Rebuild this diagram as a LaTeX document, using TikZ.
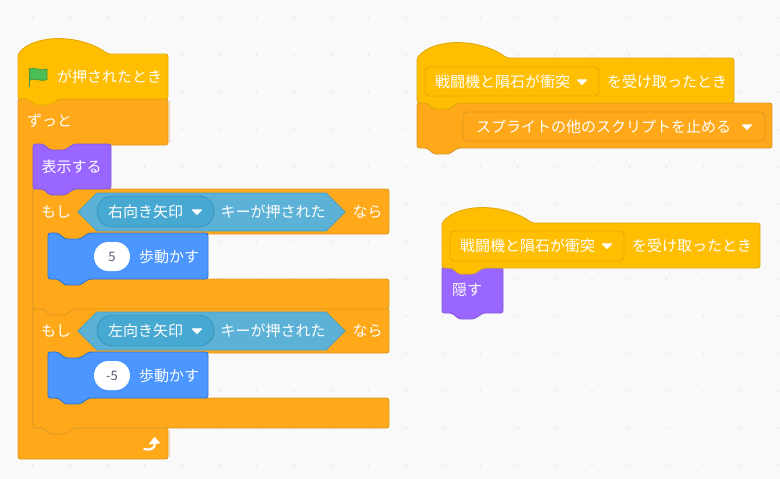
\documentclass[tikz,border=0pt]{standalone}
\usepackage{fontspec}
\setmainfont{Noto Sans CJK JP}
\definecolor{bgc}{HTML}{F9F9F9}
\definecolor{dotc}{HTML}{E6E6E8}
\definecolor{ctls}{HTML}{DB9A25}
\definecolor{ctlf}{HTML}{FFA91A}
\definecolor{evt}{HTML}{FFBF00}
\definecolor{evts}{HTML}{E2AA0A}
\definecolor{lok}{HTML}{9966FF}
\definecolor{loks}{HTML}{855CD6}
\definecolor{mot}{HTML}{4C97FF}
\definecolor{mots}{HTML}{3373CC}
\definecolor{sen}{HTML}{5CB1D6}
\definecolor{sens}{HTML}{47A0C8}
\definecolor{send}{HTML}{47A8D1}
\definecolor{sends}{HTML}{3A96BE}
\definecolor{glowc}{HTML}{EBD7B5}
\definecolor{txtg}{HTML}{575E75}
\definecolor{flagf}{HTML}{4CBF56}
\definecolor{flags}{HTML}{45993D}
% stack block path: x y w h
\newcommand\stackpath[4]{(#1,#2) -- ++(10,0) -- ++(7,6) -- ++(15,0) -- ++(9,-6) -- (#1+#3,#2) -- (#1+#3,#2+#4) -- (#1+41,#2+#4) -- ++(-9,6) -- ++(-15,0) -- ++(-7,-6) -- (#1,#2+#4) -- cycle}
% hat path: x top-of-body w h curve-end
\newcommand\hatpath[5]{(#1,#2) .. controls (#1+17,#2-20) and (#1+#5-28,#2-20) .. (#1+#5,#2) -- (#1+#3,#2) -- (#1+#3,#2+#4) -- (#1+41,#2+#4) -- ++(-9,6) -- ++(-15,0) -- ++(-7,-6) -- (#1,#2+#4) -- cycle}
% C block with a tab at its foot: x y w armtop innerh armbottom
\newcommand\ifpath[6]{(#1,#2) -- ++(10,0) -- ++(7,6) -- ++(15,0) -- ++(9,-6) -- (#1+#3,#2) -- (#1+#3,#2+#4) -- (#1+56,#2+#4) -- ++(-9,6) -- ++(-15,0) -- ++(-7,-6) -- (#1+15,#2+#4) -- (#1+15,#2+#4+#5) -- (#1+#3,#2+#4+#5) -- (#1+#3,#2+#4+#5+#6) -- (#1+41,#2+#4+#5+#6) -- ++(-9,6) -- ++(-15,0) -- ++(-7,-6) -- (#1,#2+#4+#5+#6) -- cycle}
\newcommand\caretat[2]{\fill[white,draw=white,line width=1pt,line join=round] (#1-4.5,#2-2.2) -- (#1+4.5,#2-2.2) -- (#1,#2+2.4) -- cycle;}
\tikzset{
  blk/.style={line width=0.9pt,rounded corners=2.5pt},
  ctlblk/.style={blk,fill=ctlf,draw=ctls},
  evtblk/.style={blk,fill=evt,draw=evts},
  lokblk/.style={blk,fill=lok,draw=loks},
  motblk/.style={blk,fill=mot,draw=mots},
  lbl/.style={anchor=west,inner sep=0pt,text=white,font=\fontsize{15pt}{15pt}\selectfont,text height=12pt,text depth=3pt},
  numlbl/.style={inner sep=0pt,text=txtg,font=\fontsize{13pt}{14pt}\selectfont},
  evtmenu/.style={draw=evts,fill=evt,line width=0.9pt,rounded corners=4pt},
  ctlmenu/.style={draw=ctls,fill=ctlf,line width=0.9pt,rounded corners=4pt},
  griddot/.style={fill=dotc},
  glowline/.style={line width=0.9pt,draw=glowc},
  hexblk/.style={draw=sens,fill=sen,line width=0.9pt,line join=round},
  menupill/.style={draw=sends,fill=send,line width=0.9pt,rounded corners=15.4pt},
  ovalslot/.style={fill=white,rounded corners=14.5pt},
}
\begin{document}
\begin{tikzpicture}[x=1pt,y=-1pt]
\useasboundingbox (0,0) rectangle (780,479);
\fill[bgc] (0,0) rectangle (780,479);
% grid
\foreach \i in {0,...,20}{\foreach \j in {0,...,12}{
  \fill[griddot] ({32.5+37.3*\i},{17.7+37.3*\j}) circle (1.1);
}}
% left script: forever
\draw[ctlblk] (18,99) -- (168,99) -- (168,145) -- (74,145) -- ++(-9,6) -- ++(-15,0) -- ++(-7,-6) -- (33,145) -- (33,428) -- (168,428) -- (168,459) -- (18,459) -- cycle;
\draw[glowline] (169.2,101) -- (169.2,143);
\draw[glowline] (169.2,430) -- (169.2,457);
% if blocks
\draw[ctlblk] \ifpath{33}{308}{356}{45}{45}{30};
\draw[ctlblk] \ifpath{33}{189}{356}{45}{45}{30};
\draw[glowline] (35,188.4) -- (387,188.4);
% motion
\draw[motblk] \stackpath{48}{233}{160}{46};
\draw[motblk] \stackpath{48}{352}{160}{46};
% looks
\draw[lokblk] \stackpath{33}{144}{78}{45};
% hat
\draw[evtblk] \hatpath{18}{54}{150}{45}{90};
% booleans
\draw[hexblk] (78,212) -- (97,193) -- (326,193) -- (345,212) -- (326,231) -- (97,231) -- cycle;
\draw[hexblk] (78,331) -- (97,312) -- (326,312) -- (345,331) -- (326,350) -- (97,350) -- cycle;
\draw[menupill] (97,196) rectangle (214,227);
\draw[menupill] (97,315) rectangle (214,346);
% ovals
\fill[ovalslot] (94,242) rectangle (130,271);
\fill[ovalslot] (94,361) rectangle (130,390);
% flag
\fill[flags] (28.6,68) rectangle (30.4,87);
\draw[fill=flagf,draw=flags,line width=0.8pt,line join=round]
  (30,69) .. controls (35,66.5) and (41,72) .. (47,69) -- (47,79.5) .. controls (41,82.5) and (35,77) .. (30,80) -- cycle;
% loop arrow
\draw[white,line width=2.2pt] (143.5,449) .. controls (150,450.5) and (155,449) .. (155.2,443);
\fill[white,draw=white,line width=0.8pt,line join=round] (149.5,444) -- (154.5,437.5) -- (159.5,443) -- cycle;
% labels, left
\node[lbl] (lgo) at (57,77.5) {が押されたとき};
\node[lbl] (lfor) at (27,122) {ずっと};
\node[lbl] (lshow) at (41.5,168) {表示する};
\node[lbl] (lif1) at (41,213) {もし};
\node[lbl] (lkey1) at (108,213) {右向き矢印};
\node[lbl] (lpress1) at (220.5,213) {キーが押された};
\node[lbl] (lthen1) at (352.5,213) {なら};
\node[numlbl] (lnum1) at (112,257) {5};
\node[lbl] (lmove1) at (139,258) {歩動かす};
\node[lbl] (lif2) at (41,332) {もし};
\node[lbl] (lkey2) at (108,332) {左向き矢印};
\node[lbl] (lpress2) at (220.5,332) {キーが押された};
\node[lbl] (lthen2) at (352.5,332) {なら};
\node[numlbl] (lnum2) at (112,376) {-5};
\node[lbl] (lmove2) at (139,377) {歩動かす};
\caretat{197}{212}
\caretat{197}{331}
% right top script
\draw[ctlblk] \stackpath{417}{103}{355}{45};
\draw[evtblk] \hatpath{417}{58}{317}{45}{90};
\draw[evtmenu] (425,67) rectangle (599,96);
\draw[ctlmenu] (463,112) rectangle (765,141);
\node[lbl] (lrecv1) at (435,82.5) {戦闘機と隕石が衝突};
\caretat{582}{82}
\node[lbl] (ltail1) at (607,82.5) {を受け取ったとき};
\node[lbl] (lstop) at (476,127.5) {スプライトの他のスクリプトを止める};
\caretat{747}{127}
% right lower script
\draw[lokblk] \stackpath{442}{267}{61}{46};
\draw[evtblk] \hatpath{442}{223}{318}{45}{90};
\draw[evtmenu] (450,231) rectangle (624,261);
\node[lbl] (lrecv2) at (460,247) {戦闘機と隕石が衝突};
\caretat{607}{246}
\node[lbl] (ltail2) at (632,247) {を受け取ったとき};
\node[lbl] (lhide) at (452,291) {隠す};
\end{tikzpicture}
\end{document}
